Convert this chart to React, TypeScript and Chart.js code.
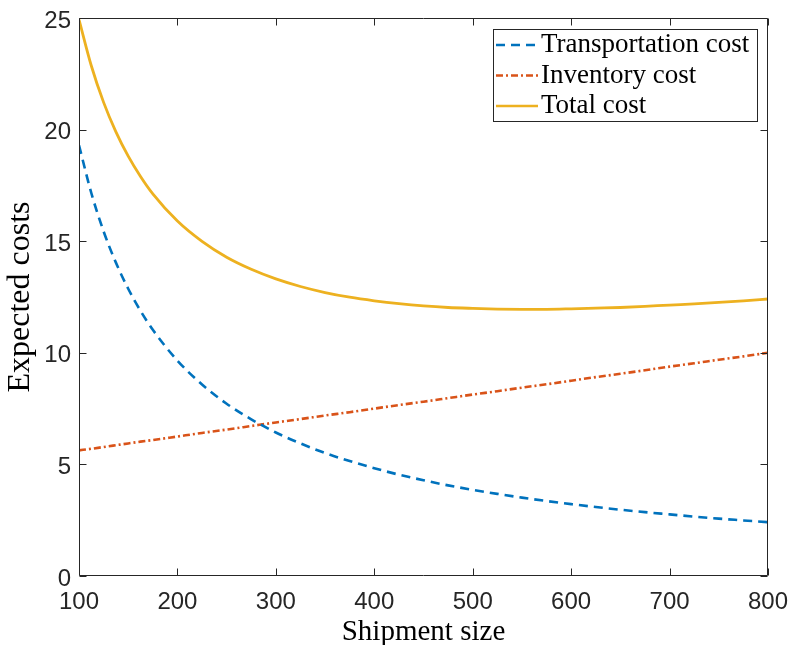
import React, { useEffect, useRef } from "react";
import { Chart, registerables } from "chart.js";

Chart.register(...registerables);

// ---- data ----
const shipmentSizes = [
  100, 112.5, 125, 137.5, 150, 162.5, 175, 200, 225, 250, 275, 300, 325, 350,
  375, 400, 425, 450, 475, 500, 525, 550, 575, 600, 625, 650, 675, 700, 725,
  750, 775, 800,
];
const transportationCost = [
  19.3, 17.16, 15.44, 14.04, 12.87, 11.88, 11.03, 9.65, 8.58, 7.72, 7.02, 6.43,
  5.94, 5.51, 5.15, 4.83, 4.54, 4.29, 4.06, 3.86, 3.68, 3.51, 3.36, 3.22, 3.09,
  2.97, 2.86, 2.76, 2.66, 2.57, 2.49, 2.41,
];
const inventoryCost = [
  5.63, 5.7, 5.78, 5.86, 5.94, 6.02, 6.09, 6.25, 6.41, 6.56, 6.72, 6.88, 7.03,
  7.19, 7.34, 7.5, 7.66, 7.81, 7.97, 8.13, 8.28, 8.44, 8.59, 8.75, 8.91, 9.06,
  9.22, 9.38, 9.53, 9.69, 9.84, 10.0,
];
const totalCost = [
  24.93, 22.86, 21.22, 19.9, 18.81, 17.9, 17.12, 15.9, 14.99, 14.28, 13.74,
  13.31, 12.97, 12.7, 12.49, 12.33, 12.2, 12.1, 12.03, 11.99, 11.96, 11.95,
  11.95, 11.97, 12.0, 12.03, 12.08, 12.14, 12.19, 12.26, 12.33, 12.41,
];
const xTickValues = [100, 200, 300, 400, 500, 600, 700, 800];
const yTickValues = [0, 5, 10, 15, 20, 25];
const seriesLabels = ["Transportation cost", "Inventory cost", "Total cost"];
const xTitle = "Shipment size";
const yTitle = "Expected costs";

const BLUE = "#0072BD";
const ORANGE = "#D95319";
const YELLOW = "#EDB120";
const AXIS = "#262626";
const SERIF = '"Liberation Serif", "Times New Roman", serif';
const SANS = '"Liberation Sans", Arial, Helvetica, sans-serif';

const toPoints = (ys: number[]) =>
  shipmentSizes.map((x, i) => ({ x, y: ys[i] }));

const boxPlugin = {
  id: "matlabBox",
  afterDatasetsDraw(chart: any) {
    const { ctx, chartArea, scales } = chart;
    const { left, right, top, bottom } = chartArea;
    ctx.save();
    ctx.strokeStyle = AXIS;
    ctx.lineWidth = 1;
    ctx.beginPath();
    const l = Math.round(left) + 0.5;
    const r = Math.round(right) - 0.5;
    const t = Math.round(top) + 0.5;
    const b = Math.round(bottom) - 0.5;
    ctx.rect(l, t, r - l, b - t);
    const tl = 7;
    xTickValues.forEach((v) => {
      const px = Math.round(scales.x.getPixelForValue(v)) + 0.5;
      ctx.moveTo(px, b);
      ctx.lineTo(px, b - tl);
      ctx.moveTo(px, t);
      ctx.lineTo(px, t + tl);
    });
    yTickValues.forEach((v) => {
      const py = Math.round(scales.y.getPixelForValue(v)) + 0.5;
      ctx.moveTo(l, py);
      ctx.lineTo(l + tl, py);
      ctx.moveTo(r, py);
      ctx.lineTo(r - tl, py);
    });
    ctx.stroke();
    ctx.restore();
  },
  afterDraw(chart: any) {
    const { ctx, chartArea } = chart;
    ctx.save();
    // axis titles
    ctx.fillStyle = "#000";
    ctx.textAlign = "center";
    ctx.textBaseline = "alphabetic";
    ctx.font = `29px ${SERIF}`;
    ctx.fillText(xTitle, (chartArea.left + chartArea.right) / 2, 640);
    ctx.save();
    ctx.font = `32px ${SERIF}`;
    ctx.translate(29, (chartArea.top + chartArea.bottom) / 2);
    ctx.rotate(-Math.PI / 2);
    ctx.fillText(yTitle, 0, 0);
    ctx.restore();

    // legend
    const bx = 493.5, by = 29.5, bw = 264, bh = 92;
    ctx.fillStyle = "#fff";
    ctx.fillRect(bx, by, bw, bh);
    ctx.strokeStyle = AXIS;
    ctx.lineWidth = 1;
    ctx.strokeRect(bx, by, bw, bh);
    const rows = [45, 75.5, 106];
    const styles = [
      { color: BLUE, dash: [9, 6] },
      { color: ORANGE, dash: [7, 3, 2, 3] },
      { color: YELLOW, dash: [] as number[] },
    ];
    ctx.font = `27px ${SERIF}`;
    ctx.textAlign = "left";
    rows.forEach((y, i) => {
      ctx.save();
      ctx.strokeStyle = styles[i].color;
      ctx.lineWidth = 2.6;
      ctx.setLineDash(styles[i].dash);
      ctx.beginPath();
      ctx.moveTo(496, y);
      ctx.lineTo(538, y);
      ctx.stroke();
      ctx.restore();
      ctx.fillStyle = "#000";
      ctx.fillText(seriesLabels[i], 541, y + 7);
    });
    ctx.restore();
  },
};

export default function App() {
  const canvasRef = useRef<HTMLCanvasElement | null>(null);

  useEffect(() => {
    if (!canvasRef.current) return;
    const chart = new Chart(canvasRef.current, {
      type: "line",
      data: {
        datasets: [
          {
            label: seriesLabels[0],
            data: toPoints(transportationCost),
            borderColor: BLUE,
            borderWidth: 2.6,
            borderDash: [9, 6],
            pointRadius: 0,
            cubicInterpolationMode: "monotone",
            fill: false,
          },
          {
            label: seriesLabels[1],
            data: toPoints(inventoryCost),
            borderColor: ORANGE,
            borderWidth: 2.6,
            borderDash: [7, 3, 2, 3],
            pointRadius: 0,
            cubicInterpolationMode: "monotone",
            fill: false,
          },
          {
            label: seriesLabels[2],
            data: toPoints(totalCost),
            borderColor: YELLOW,
            borderWidth: 2.8,
            pointRadius: 0,
            cubicInterpolationMode: "monotone",
            fill: false,
          },
        ],
      },
      options: {
        responsive: false,
        animation: false,
        devicePixelRatio: 1,
        layout: { padding: { left: 0, right: 22, top: 18, bottom: 0 } },
        plugins: {
          legend: { display: false },
          tooltip: { enabled: false },
          title: { display: false },
        },
        scales: {
          x: {
            type: "linear",
            min: 100,
            max: 800,
            grid: { display: false, drawTicks: false },
            border: { display: false },
            afterBuildTicks: (s: any) => {
              s.ticks = xTickValues.map((v) => ({ value: v }));
            },
            afterFit: (s: any) => {
              s.height = 69;
              s.paddingLeft = 0;
              s.paddingRight = 0;
            },
            ticks: {
              color: AXIS,
              font: { family: SANS, size: 24 },
              padding: 12,
              maxRotation: 0,
              autoSkip: false,
            },
          },
          y: {
            type: "linear",
            min: 0,
            max: 25,
            grid: { display: false, drawTicks: false },
            border: { display: false },
            afterBuildTicks: (s: any) => {
              s.ticks = yTickValues.map((v) => ({ value: v }));
            },
            afterFit: (s: any) => {
              s.width = 79;
              s.paddingTop = 0;
              s.paddingBottom = 0;
            },
            ticks: {
              color: AXIS,
              font: { family: SANS, size: 24 },
              padding: 8,
              labelOffset: 3,
              autoSkip: false,
            },
          },
        },
      },
      plugins: [boxPlugin],
    });
    return () => chart.destroy();
  }, []);

  return (
    <div style={{ position: "absolute", left: 0, top: 0, width: 790, height: 645, background: "#fff" }}>
      <canvas ref={canvasRef} width={790} height={645} style={{ display: "block" }} />
    </div>
  );
}
